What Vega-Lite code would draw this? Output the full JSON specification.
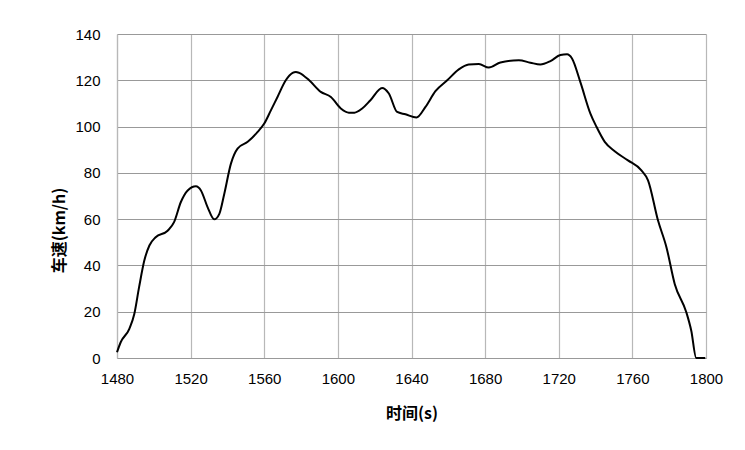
{
  "$schema": "https://vega.github.io/schema/vega-lite/v6.json",
  "width": 589,
  "height": 324,
  "autosize": "none",
  "padding": {"left": 117, "top": 34, "right": 39, "bottom": 92},
  "background": "white",
  "config": {"view": {"stroke": null}},
  "data": {"values": [
    {"t": 1480, "v": 2.5}, {"t": 1482, "v": 6.8}, {"t": 1486.7, "v": 12.6}, {"t": 1489.4, "v": 19},
    {"t": 1492, "v": 30.6}, {"t": 1494.8, "v": 42}, {"t": 1497.6, "v": 48.6}, {"t": 1501, "v": 52.2},
    {"t": 1507.5, "v": 55}, {"t": 1511, "v": 58.7}, {"t": 1514.7, "v": 67.4}, {"t": 1518.4, "v": 72.4},
    {"t": 1522.9, "v": 74.2}, {"t": 1525.6, "v": 72.4}, {"t": 1529.2, "v": 65.2}, {"t": 1532.8, "v": 59.9},
    {"t": 1535.6, "v": 62.3}, {"t": 1538.3, "v": 71}, {"t": 1541.9, "v": 84}, {"t": 1545.5, "v": 90.5},
    {"t": 1551, "v": 93.4}, {"t": 1556.4, "v": 97.7}, {"t": 1560, "v": 101.3}, {"t": 1563.6, "v": 107},
    {"t": 1567.2, "v": 112.8}, {"t": 1571.7, "v": 120}, {"t": 1575.4, "v": 123.2}, {"t": 1577.2, "v": 123.6}, {"t": 1579, "v": 123.2},
    {"t": 1584.4, "v": 120}, {"t": 1590.7, "v": 115}, {"t": 1596.2, "v": 112.8}, {"t": 1601.6, "v": 107.8},
    {"t": 1606, "v": 106}, {"t": 1609, "v": 106}, {"t": 1613.2, "v": 107.8}, {"t": 1617.7, "v": 111.4},
    {"t": 1624, "v": 116.7}, {"t": 1627.7, "v": 114.3}, {"t": 1632.2, "v": 106.3}, {"t": 1636.7, "v": 105.3},
    {"t": 1642.7, "v": 103.9}, {"t": 1647.6, "v": 108.5}, {"t": 1653, "v": 115.3}, {"t": 1659.4, "v": 120},
    {"t": 1665.7, "v": 124.7}, {"t": 1671.1, "v": 126.8}, {"t": 1676.6, "v": 127}, {"t": 1682, "v": 125.5},
    {"t": 1688.3, "v": 127.7}, {"t": 1698.3, "v": 128.7}, {"t": 1704.6, "v": 127.6}, {"t": 1710, "v": 126.8},
    {"t": 1715.5, "v": 128.3}, {"t": 1720.9, "v": 130.9}, {"t": 1724.5, "v": 131.2}, {"t": 1727.2, "v": 129.4},
    {"t": 1731.7, "v": 119.3}, {"t": 1737.2, "v": 105.6}, {"t": 1740.5, "v": 99.9}, {"t": 1745, "v": 93.4},
    {"t": 1750.4, "v": 89.3}, {"t": 1757.6, "v": 85.4}, {"t": 1764.9, "v": 81.1}, {"t": 1768.5, "v": 76.8},
    {"t": 1773.9, "v": 59.5}, {"t": 1778.5, "v": 47.9}, {"t": 1783, "v": 32}, {"t": 1789.3, "v": 19.8},
    {"t": 1792, "v": 11.8}, {"t": 1794.7, "v": 0}, {"t": 1799.6, "v": 0}
  ]},
  "mark": {"type": "line", "color": "black", "strokeWidth": 2, "interpolate": "monotone"},
  "encoding": {
    "x": {
      "field": "t", "type": "quantitative",
      "scale": {"domain": [1480, 1800], "nice": false, "zero": false},
      "axis": {
        "values": [1480, 1520, 1560, 1600, 1640, 1680, 1720, 1760, 1800],
        "format": "d", "labelFlush": false,
        "title": "时间(s)",
        "titleFont": "Noto Sans CJK SC", "titleFontSize": 16, "titleFontWeight": "bold", "titleColor": "#000",
        "titleY": 55, "titleBaseline": "middle",
        "labelFont": "Liberation Sans", "labelFontSize": 15, "labelColor": "#000",
        "labelPadding": 13, "ticks": false,
        "domainColor": "#999", "domainWidth": 1,
        "grid": true, "gridColor": "#b8b8b8", "gridWidth": 1.2
      }
    },
    "y": {
      "field": "v", "type": "quantitative",
      "scale": {"domain": [0, 140], "nice": false},
      "axis": {
        "values": [0, 20, 40, 60, 80, 100, 120, 140],
        "format": "d",
        "title": "车速(km/h)",
        "titleFont": "Noto Sans CJK SC", "titleFontSize": 16, "titleFontWeight": "bold", "titleColor": "#000",
        "titleX": -58, "titleY": 196, "titleBaseline": "middle", "titleAngle": 270,
        "labelFont": "Liberation Sans", "labelFontSize": 15, "labelColor": "#000",
        "labelPadding": 17, "ticks": false,
        "domainColor": "#b8b8b8", "domainWidth": 1.2,
        "grid": true, "gridColor": "#999", "gridWidth": 1
      }
    }
  }
}
